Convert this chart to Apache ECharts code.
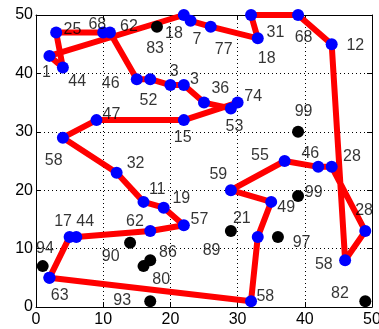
<!DOCTYPE html>
<html>
<head>
<meta charset="utf-8">
<script src="https://cdn.jsdelivr.net/npm/echarts@6/dist/echarts.min.js"></script>
<style>html,body{margin:0;padding:0;background:#fff;}#c{width:379px;height:329px;}</style>
</head>
<body>
<div id="c"></div>
<script>
// Route (closed tour) vertices, in visiting order
const route_x = [2,32,33,35,29,37,42,44,49,46,44,39,32,33,26,23,22,2,4,3,10,11,15,17,20,22,25,29,30,22,9,4,12,16,19,22,17,6,5,2];
const route_y = [5,1,12,18,20,25,24,24,13,8,45,50,50,46,48,49,50,43,41,47,47,47,39,39,38,38,35,34,35,32,32,29,23,18,17,14,13,12,12,5];
// Unvisited (black) points
const other_x = [18,39,39,29,36,49,14,16,17,17,1];
const other_y = [48,30,19,13,12,1,11,7,8,1,7];
// Text labels (left edge x, middle y)
const label_text = ["25","68","62","18","83","7","77","31","18","68","12","1","44","46","52","3","3","36","74","53","47","15","99","58","32","55","46","28","59","11","19","99","49","28","57","21","17","44","62","97","89","94","90","86","58","80","63","93","58","82"];
const label_x = [4.1,7.8,12.5,19.2,16.4,23.3,26.6,34.3,33.0,38.5,46.2,0.9,4.8,9.8,15.4,19.9,22.9,26.1,31.0,28.2,9.9,20.5,38.5,1.3,13.5,32.0,39.5,45.7,25.8,16.8,20.3,40.0,35.9,47.5,23.0,29.3,2.7,6.0,13.4,38.2,24.8,0.0,9.8,18.3,41.5,17.3,2.2,11.5,32.8,43.9];
const label_y = [47.5,48.3,48.1,46.9,44.2,45.8,44.1,47.0,42.5,46.2,44.7,40.1,38.6,38.3,35.4,40.3,38.9,37.4,36.0,30.9,32.9,29.0,33.4,25.1,24.6,26.0,26.3,25.7,22.6,20.1,18.5,19.6,17.0,16.5,14.9,15.1,14.6,14.7,14.7,11.0,9.7,10.0,8.7,9.3,7.3,4.7,2.0,1.1,1.7,2.3];
const tick_min = 0, tick_max = 50, tick_step = 10;

const routeData = route_x.map((x,i)=>[x, route_y[i]]);
const otherData = other_x.map((x,i)=>[x, other_y[i]]);
const labelData = label_text.map((t,i)=>({name:t, value:[label_x[i], label_y[i]]}));

const FONT = 'Liberation Sans, Arial, sans-serif';
function axisBase(pos, showLabel, isX){
  return {
    type:'value', position:pos, min:tick_min, max:tick_max, interval:tick_step,
    axisLine:{show:true, onZero:false, lineStyle:{color:'#000', width:1}},
    axisTick:{show:true, inside:true, length:5, lineStyle:{color:'#000'}},
    axisLabel:{show:showLabel, color:'#000', fontSize:16, fontFamily:FONT, margin: isX?5:3, showMinLabel:true, showMaxLabel:true, hideOverlap:false},
    splitLine:{show:showLabel, lineStyle:{color:'#000', width:1, type:[1,3]}},
  };
}
const chart = echarts.init(document.getElementById('c'), null, {renderer:'canvas'});
chart.setOption({
  animation:false,
  backgroundColor:'#fff',
  grid:{left:36, right:7, top:15, bottom:22, containLabel:false, outerBoundsMode:'none'},
  xAxis:[axisBase('bottom', true, true), axisBase('top', false, true)],
  yAxis:[axisBase('left', true, false), axisBase('right', false, false)],
  series:[
    {type:'line', data:routeData, symbol:'none', z:2,
     lineStyle:{color:'#ff0000', width:6, join:'round', cap:'round'}},
    {type:'scatter', data:routeData, symbolSize:12, z:3, itemStyle:{color:'#0000ff', opacity:1}},
    {type:'scatter', data:otherData, symbolSize:12, z:3, itemStyle:{color:'#000', opacity:1}},
    {type:'scatter', data:labelData, symbolSize:0.01, z:4, itemStyle:{color:'rgba(0,0,0,0)'},
     label:{show:true, position:'right', distance:0, formatter:p=>p.name, color:'#000', fontSize:16, fontFamily:FONT, align:'left', verticalAlign:'middle'}}
  ]
});
</script>
</body>
</html>
